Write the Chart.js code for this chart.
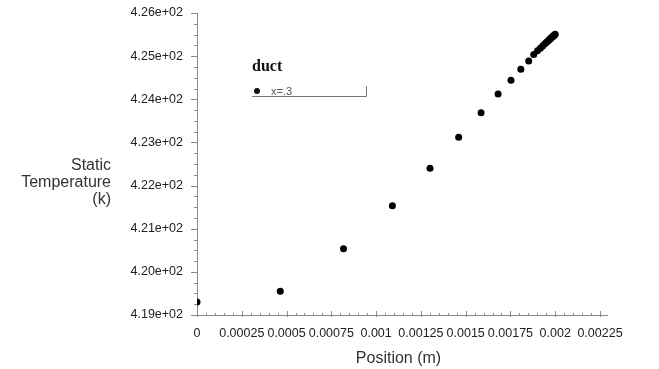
<!DOCTYPE html>
<html>
<head>
<meta charset="utf-8">
<script src="https://cdn.jsdelivr.net/npm/chart.js@4"></script>
<style>
  html, body { margin: 0; padding: 0; background: #fff; }
  #wrap { width: 659px; height: 369px; }
</style>
</head>
<body>
<div id="wrap"><canvas id="tempChart" width="659" height="369"></canvas></div>
<script>
// positions along the duct (m) and static temperature (k)
const positions = [0, 0.000465, 0.000818, 0.001091, 0.001301, 0.001461, 0.001586, 0.001681,
  0.001753, 0.001808, 0.001852, 0.00188, 0.001901, 0.001917, 0.00193, 0.001941, 0.00195,
  0.001958, 0.001965, 0.00197, 0.001975, 0.00198, 0.001984, 0.001988, 0.001991, 0.001994,
  0.001997, 0.002];
const temps = [419.303, 419.552, 420.537, 421.531, 422.399, 423.121, 423.687, 424.122,
  424.441, 424.697, 424.89, 425.037, 425.123, 425.185, 425.236, 425.279, 425.314,
  425.345, 425.373, 425.392, 425.412, 425.431, 425.447, 425.462, 425.474, 425.486,
  425.497, 425.51];

const yTicks = [419, 420, 421, 422, 423, 424, 425, 426];
const xTicks = [0, 0.00025, 0.0005, 0.00075, 0.001, 0.00125, 0.0015, 0.00175, 0.002, 0.00225];
const seriesName = 'duct';
const seriesLabel = 'x=.3';

const axisGray = '#8a8a8a';

// minor/major tick marks, y title and the little legend box
const decorPlugin = {
  id: 'decor',
  afterDraw(c) {
    const ctx = c.ctx;
    const xs = c.scales.x, ys = c.scales.y;
    const area = c.chartArea;
    ctx.save();
    ctx.strokeStyle = axisGray;
    ctx.lineWidth = 1;
    // y ticks
    for (let v = yTicks[0]; v <= yTicks[yTicks.length - 1] + 1e-9; v += 0.25) {
      const py = Math.round(ys.getPixelForValue(v)) + 0.5;
      const major = Math.abs(v - Math.round(v)) < 1e-6;
      ctx.beginPath();
      ctx.moveTo(area.left - (major ? 6 : 3), py);
      ctx.lineTo(area.left, py);
      ctx.stroke();
    }
    // x ticks
    for (let i = 0; i <= 45; i++) {
      const v = i * 0.00005;
      const px = Math.round(xs.getPixelForValue(v)) + 0.5;
      const major = i % 5 === 0;
      ctx.beginPath();
      ctx.moveTo(px, area.bottom - (major ? 4 : 2));
      ctx.lineTo(px, area.bottom + (major ? 2 : 0));
      ctx.stroke();
    }
    // axis line runs a little past the last tick
    ctx.beginPath();
    ctx.moveTo(area.right, area.bottom + 0.5);
    ctx.lineTo(area.right + 8, area.bottom + 0.5);
    ctx.stroke();
    // y axis title, horizontal and right aligned
    ctx.fillStyle = '#333';
    ctx.font = '16px "Liberation Sans", Arial, sans-serif';
    ctx.textAlign = 'right';
    ctx.textBaseline = 'alphabetic';
    ctx.fillText('Static', 111, 170);
    ctx.fillText('Temperature', 111, 187);
    ctx.fillText('(k)', 111, 204);
    // legend
    ctx.textAlign = 'left';
    ctx.fillStyle = '#111';
    ctx.font = 'bold 16px "Liberation Serif", "Times New Roman", serif';
    ctx.fillText(seriesName, 252, 71);
    ctx.beginPath();
    ctx.arc(257, 91, 3, 0, Math.PI * 2);
    ctx.fill();
    ctx.fillStyle = '#555';
    ctx.font = '11px "Liberation Sans", Arial, sans-serif';
    ctx.fillText(seriesLabel, 271, 95);
    ctx.strokeStyle = '#777';
    ctx.beginPath();
    ctx.moveTo(252, 96.5);
    ctx.lineTo(366.5, 96.5);
    ctx.lineTo(366.5, 86);
    ctx.stroke();
    ctx.restore();
  }
};

new Chart(document.getElementById('tempChart'), {
  type: 'scatter',
  data: {
    datasets: [{
      label: seriesName,
      data: positions.map((p, i) => ({ x: p, y: temps[i] })),
      backgroundColor: '#000',
      borderColor: '#000',
      borderWidth: 0,
      pointRadius: 3.5
    }]
  },
  options: {
    responsive: false,
    animation: false,
    layout: { padding: { top: 13, right: 59, left: 0, bottom: 0 } },
    plugins: { legend: { display: false }, tooltip: { enabled: false } },
    scales: {
      x: {
        type: 'linear',
        min: xTicks[0],
        max: xTicks[xTicks.length - 1],
        afterBuildTicks: s => { s.ticks = xTicks.map(v => ({ value: v })); },
        afterFit: s => { s.height = 54; },
        grid: { display: true, drawOnChartArea: false, drawTicks: false },
        border: { display: true, color: axisGray },
        ticks: {
          padding: 11,
          color: '#222',
          autoSkip: false,
          maxRotation: 0,
          font: { family: '"Liberation Sans", Arial, sans-serif', size: 12.5 },
          callback: v => String(+Number(v).toFixed(5))
        },
        title: {
          display: true,
          text: 'Position (m)',
          color: '#333',
          font: { family: '"Liberation Sans", Arial, sans-serif', size: 16 },
          padding: { top: 0, bottom: 1 }
        }
      },
      y: {
        type: 'linear',
        min: yTicks[0],
        max: yTicks[yTicks.length - 1],
        afterBuildTicks: s => { s.ticks = yTicks.map(v => ({ value: v })); },
        afterFit: s => { s.width = 197; s.paddingTop = 0; s.paddingBottom = 0; },
        grid: { display: true, drawOnChartArea: false, drawTicks: false },
        border: { display: true, color: axisGray },
        ticks: {
          padding: 14,
          color: '#222',
          font: { family: '"Liberation Sans", Arial, sans-serif', size: 12.5 },
          callback: v => Number(v).toExponential(2).replace(/e\+(\d)$/, 'e+0$1')
        }
      }
    }
  },
  plugins: [decorPlugin]
});
</script>
</body>
</html>
